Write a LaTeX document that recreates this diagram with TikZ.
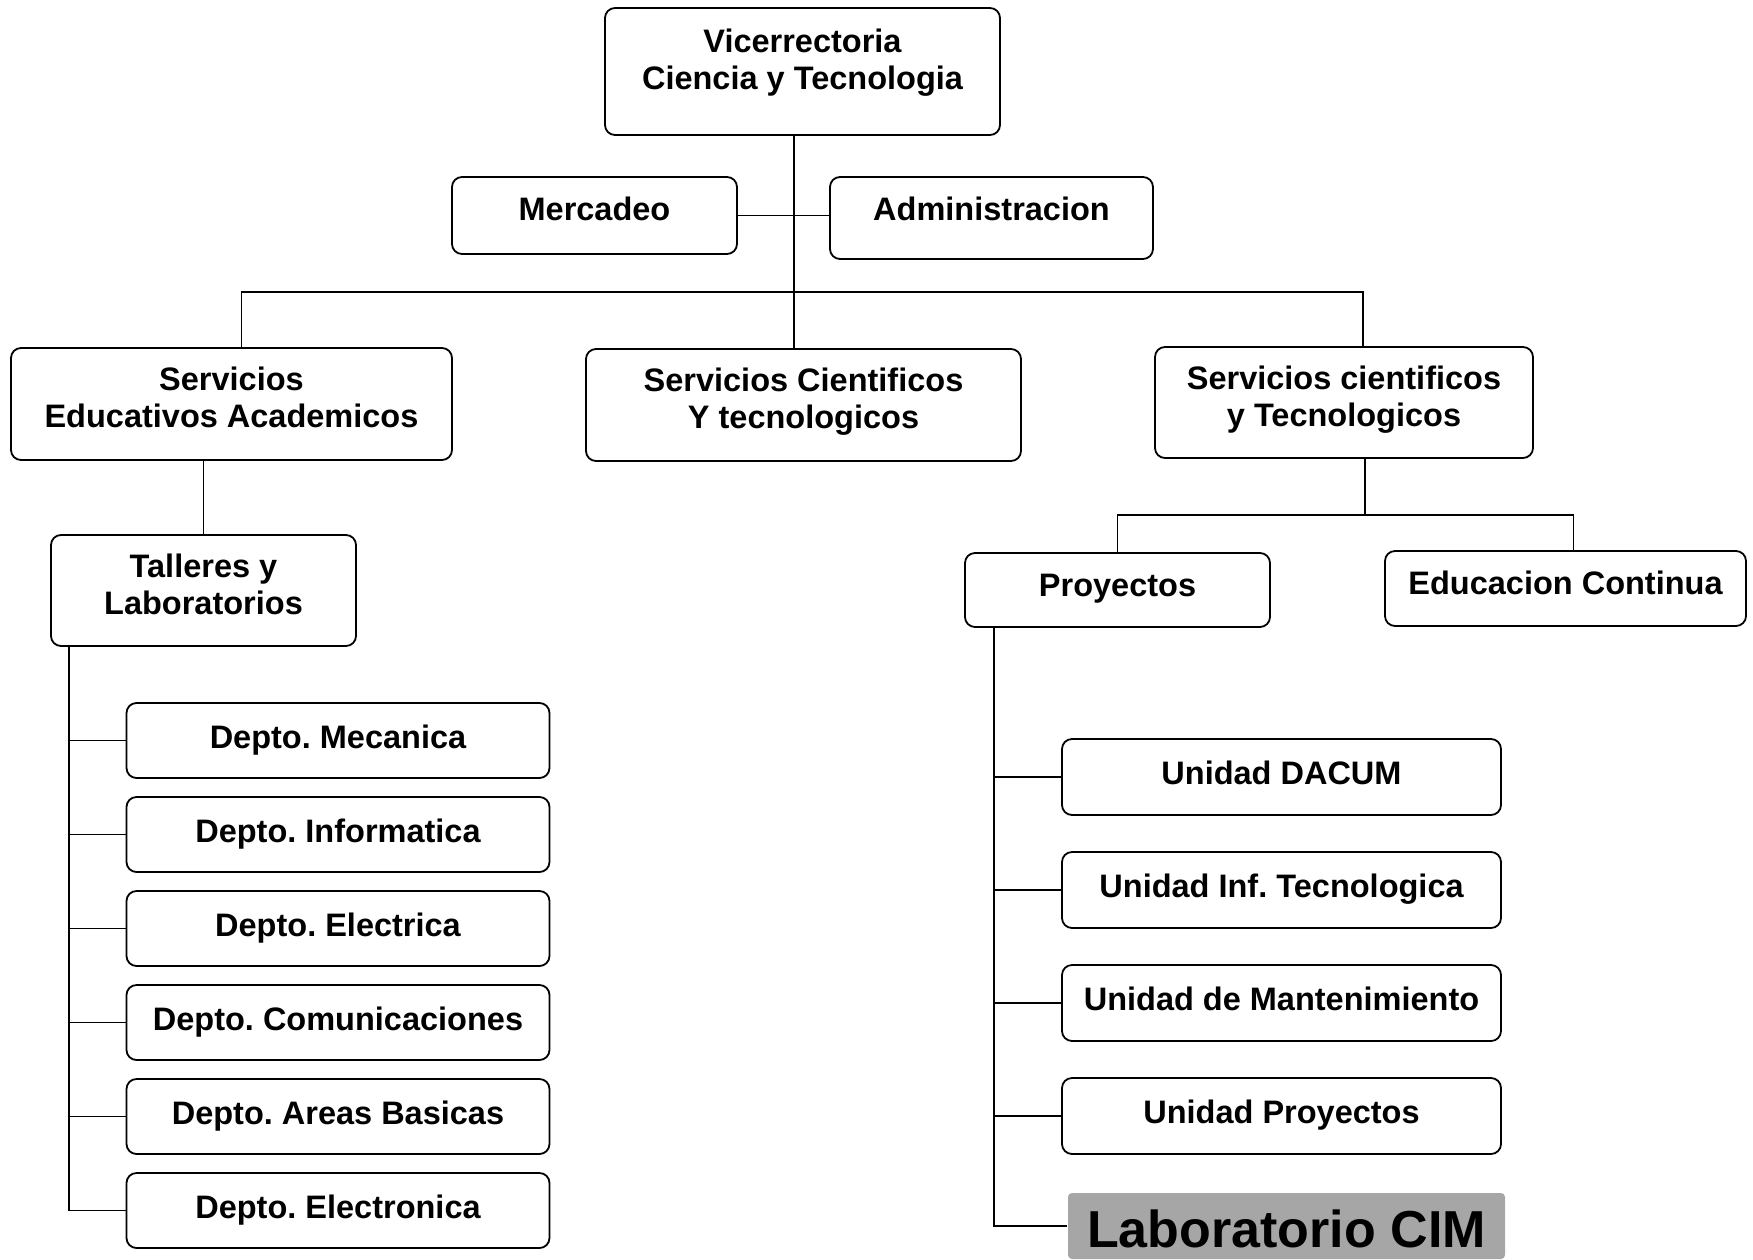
\documentclass[tikz,border=0pt]{standalone}
\usepackage{fontspec}
\setmainfont{Liberation Sans}
\usepackage{tikz}
\usetikzlibrary{calc}
\usetikzlibrary{positioning}
\frenchspacing

\newcommand{\boxfont}{\bfseries\fontsize{32.5}{37}\selectfont}
\newcommand{\labfont}{\bfseries\fontsize{52}{60}\selectfont}

\begin{document}
\begin{tikzpicture}[x=1pt,y=-1pt,line width=1.5pt]
	\tikzstyle{box}=[draw, rounded corners=10pt, line width=1.8pt, inner sep=0pt, align=center, font=\boxfont]
	\tikzstyle{depto}=[box, minimum width=423pt, text height=45pt, text depth=30pt, node distance=94pt]
	\tikzstyle{unidad}=[box, minimum width=439pt, text height=45pt, text depth=31pt, node distance=113pt]
	\useasboundingbox (0,0) rectangle (1753,1259);

	% upper levels (text height is measured to the last line)
	\node[box, minimum width=395pt, text height=81pt, text depth=46pt] (vice) at (802.5,71.5) {Vicerrectoria\\Ciencia y Tecnologia};
	\node[box, minimum width=285pt, text height=43pt, text depth=34pt] (merc) at (594.5,215.5) {Mercadeo};
	\node[box, minimum width=323pt, text height=43pt, text depth=39pt] (admin) at (991.5,218) {Administracion};
	\node[box, minimum width=441pt, text height=79pt, text depth=33pt] (sea) at (231.5,404) {Servicios\\Educativos Academicos};
	\node[box, minimum width=435pt, text height=79pt, text depth=33pt] (sct) at (803.5,405) {Servicios Cientificos\\Y tecnologicos};
	\node[box, minimum width=378pt, text height=79pt, text depth=32pt] (sct2) at (1344,402.5) {Servicios cientificos\\y Tecnologicos};
	\node[box, minimum width=305pt, text height=79pt, text depth=32pt] (tal) at (203.5,590.5) {Talleres y\\Laboratorios};
	\node[box, minimum width=305pt, text height=43pt, text depth=31pt] (proy) at (1117.5,590) {Proyectos};
	\node[box, minimum width=361pt, text height=43pt, text depth=32pt] (edu) at (1565.5,588.5) {Educacion Continua};

	% departamentos
	\node[depto] (d1) at (338,740.5) {Depto. Mecanica};
	\node[depto] (d2) [below of=d1] {Depto. Informatica};
	\node[depto] (d3) [below of=d2] {Depto. Electrica};
	\node[depto] (d4) [below of=d3] {Depto. Comunicaciones};
	\node[depto] (d5) [below of=d4] {Depto. Areas Basicas};
	\node[depto] (d6) [below of=d5] {Depto. Electronica};

	% unidades
	\node[unidad] (u1) at (1281.5,777) {Unidad DACUM};
	\node[unidad] (u2) [below of=u1] {Unidad Inf. Tecnologica};
	\node[unidad] (u3) [below of=u2] {Unidad de Mantenimiento};
	\node[unidad] (u4) [below of=u3] {Unidad Proyectos};
	\node[fill=black!35, rounded corners=4pt, inner sep=0pt, minimum width=437pt, text height=54pt, text depth=12pt, font=\labfont] (lab) at (1286.5,1226) {Laboratorio CIM};

	% lines
	\coordinate (hub) at (794,292);
	\coordinate (split) at (1365,515);
	\coordinate (ltrunk) at ([xshift=19pt]tal.south west);
	\coordinate (rtrunk) at ([xshift=30pt]proy.south west);
	\draw (vice.south -| hub) -- (sct.north -| hub);
	\draw (merc.east) -- (merc.east -| admin.west);
	\draw ([xshift=10pt]sea.north) |- (hub) -| ([xshift=19pt]sct2.north);
	\draw (tal.north) -- (tal.north |- sea.south);
	\draw (sct2.south -| split) -- (split);
	\draw (proy.north) |- (split) -| ([xshift=8pt]edu.north);
	\draw (ltrunk) |- (d6.west);
	\foreach \n in {d1,d2,d3,d4,d5}
		\draw (ltrunk |- \n.west) -- (\n.west);
	\draw (rtrunk) |- (lab.west);
	\foreach \n in {u1,u2,u3,u4}
		\draw (rtrunk |- \n.west) -- (\n.west);
\end{tikzpicture}
\end{document}
